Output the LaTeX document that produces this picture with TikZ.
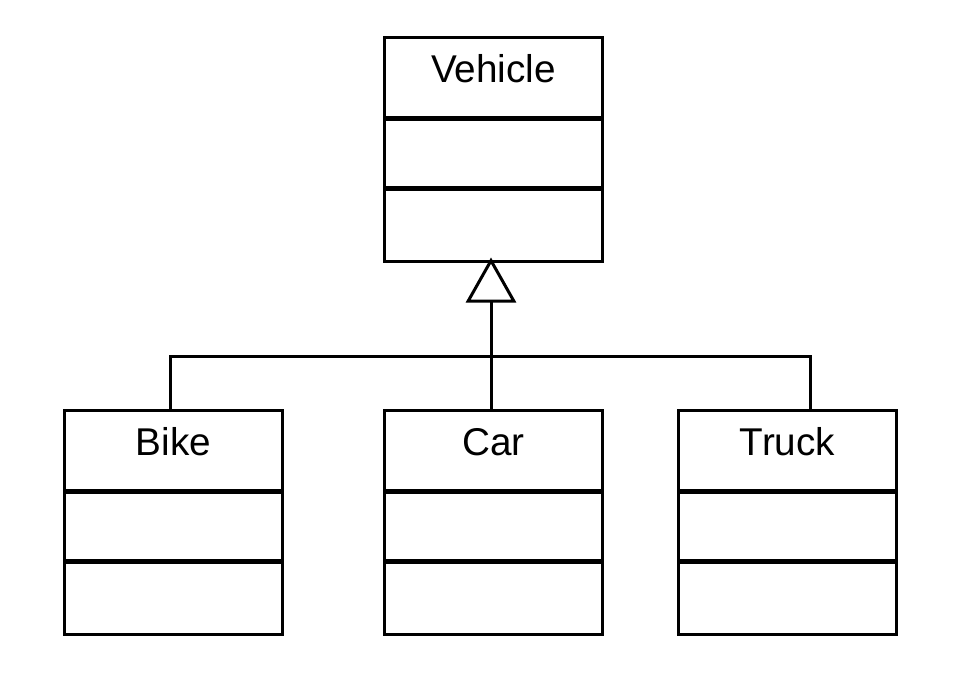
\documentclass[tikz,border=0pt]{standalone}
\usepackage{fontspec}
\setmainfont{Liberation Sans}
\usetikzlibrary{arrows.meta,positioning}

% one UML class: name, position, title
\newcommand{\umlclass}[3]{%
  \node[classbox] (#1) at (#2) {};
  \node[classtitle] (#1-title) at ([yshift=-45pt]#1.north) {#3};
  \draw[divider] ([yshift=-81pt]#1.north west) -- ([yshift=-81pt]#1.north east);
  \draw[divider] ([yshift=-151pt]#1.north west) -- ([yshift=-151pt]#1.north east);
}

\begin{document}
\begin{tikzpicture}[x=1pt,y=-1pt,line width=3pt]
  \tikzstyle{classbox}=[draw=black,line width=3pt,minimum width=218pt,minimum height=224pt,inner sep=0pt,outer sep=0pt]
  \tikzstyle{classtitle}=[anchor=base,inner sep=0pt,font=\fontsize{38.7}{46}\selectfont]
  \tikzstyle{divider}=[line width=5pt]
  \tikzstyle{inherit}=[-{Triangle[open,length=45pt,width=50pt]},shorten >=-4pt]

  \useasboundingbox (0,0) rectangle (969,678);

  % Parent class
  \umlclass{vehicle}{493.5,149.5}{Vehicle}

  % Child classes
  \umlclass{car}{493.5,522}{Car}
  \umlclass{bike}{173.5,522}{Bike}
  \umlclass{truck}{787.5,522}{Truck}

  % Generalization
  \coordinate (bus) at (491,356);
  \draw[inherit] (car.north -| bus) -- (vehicle.south -| bus);
  \draw ([xshift=-3pt]bike.north) |- (bus) -| ([xshift=23pt]truck.north);
\end{tikzpicture}
\end{document}
